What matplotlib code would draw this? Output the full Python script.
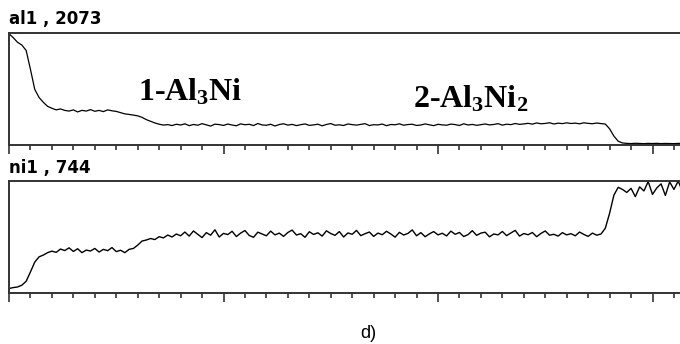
import numpy as np
import matplotlib
matplotlib.use("Agg")
import matplotlib.pyplot as plt
from matplotlib.ticker import MultipleLocator

# Al and Ni line-scan counts, one sample every 0.2 units along the scan
al_counts = [
    2060, 1985, 1900, 1850, 1750, 1400, 1030, 880, 790, 715,
    680, 650, 668, 640, 628, 650, 612, 641, 628, 655,
    624, 640, 618, 650, 633, 622, 600, 576, 566, 553,
    540, 512, 470, 440, 408, 385, 368, 378, 360, 384,
    370,
    392, 358, 380, 366, 395, 372, 350, 386, 378, 362,
    388, 370, 356, 391, 375, 383, 360, 398, 371, 365,
    384, 352, 379, 393, 368, 381, 359, 376, 390, 363,
    372, 385, 355, 380, 397, 366, 374, 361, 389, 377,
    368, 382, 395, 360, 376, 371, 388, 357, 380, 374,
    392, 366, 379, 384, 362, 370, 390, 375, 358, 383,
    372, 366, 387, 378, 361, 393, 370, 381, 364, 376,
    389, 372, 380, 395, 368, 385, 377, 398, 382, 390,
    401, 386, 408, 393, 399, 412, 389, 404, 396, 410,
    398, 405, 392, 411, 400, 394, 407, 396, 388,
    300, 165, 70, 38, 30, 26, 32, 28, 25, 30,
    27, 31, 26, 29, 28, 25, 30, 27, 29, 26,
]

ni_counts = [
    30, 36, 40, 52, 78, 140, 205, 240, 252, 268,
    278, 270, 292, 282, 300, 276, 294, 268, 285, 279,
    296, 272, 290, 281, 302, 275, 284, 268, 290, 296,
    318, 345, 352, 362, 355, 374, 366, 385, 372, 392,
    380,
    405, 378, 412, 390, 368, 401, 384, 420, 372, 396,
    388, 410, 375, 398, 415, 382, 370, 404, 392, 380,
    411, 386, 398, 376, 402, 418, 385, 394, 370, 407,
    389, 400, 378, 413, 395, 383, 408, 372, 399, 390,
    416, 381, 394, 405, 376, 398, 387, 410, 392, 371,
    403, 385, 396, 419, 380, 401, 374, 393, 408, 386,
    397, 379, 411, 390, 402, 375, 388, 414, 383, 398,
    404, 373, 392, 386, 409, 381, 399, 416, 378, 395,
    387, 402, 374, 396, 412, 384, 390, 378, 401, 386,
    394, 380, 405, 389, 376, 398, 384, 392,
    430, 530, 650, 702, 688, 668, 695, 640, 705, 678,
    740, 655, 698, 725, 648, 738, 688, 744, 672, 700,
    712,
]

step = 0.2
al_max = 2073
ni_max = 744
panel_titles = ["al1 , 2073", "ni1 , 744"]

plt.rcParams["mathtext.fontset"] = "custom"
plt.rcParams["mathtext.rm"] = "Liberation Serif:bold"
plt.rcParams["mathtext.it"] = "Liberation Serif:bold"
plt.rcParams["mathtext.bf"] = "Liberation Serif:bold"

W, H = 680, 344
fig = plt.figure(figsize=(W / 100, H / 100), dpi=100)

# panel boxes in pixels: left, top, right, bottom
boxes = [(9, 33, 690, 145), (9, 181, 690, 293)]
px_per_unit = 21.45


def make_axes(box):
    l, t, r, b = box
    ax = fig.add_axes([l / W, 1 - b / H, (r - l) / W, (b - t) / H])
    ax.set_xlim(0, (r - l) / px_per_unit)
    for s in ax.spines.values():
        s.set_color("#333333")
        s.set_linewidth(1.4)
    ax.spines["right"].set_visible(False)
    ax.xaxis.set_major_locator(MultipleLocator(10))
    ax.xaxis.set_minor_locator(MultipleLocator(1))
    ax.tick_params(axis="x", which="major", direction="out", length=6.5, width=1.1,
                   color="#222222", labelbottom=False)
    ax.tick_params(axis="x", which="minor", direction="out", length=3.5, width=1.1,
                   color="#222222")
    ax.set_yticks([])
    return ax


ax1 = make_axes(boxes[0])
x_al = np.arange(len(al_counts)) * step
ax1.plot(x_al, al_counts, color="black", lw=0.9)
ax1.set_ylim(0, al_max)

ax2 = make_axes(boxes[1])
x_ni = np.arange(len(ni_counts)) * step
ax2.plot(x_ni, ni_counts, color="black", lw=1.0)
ax2.set_ylim(0, ni_max)

fig.text(9 / W, 1 - 24 / H, panel_titles[0], fontsize=12, fontweight="bold",
         family="DejaVu Sans", va="baseline", ha="left")
fig.text(9 / W, 1 - 173 / H, panel_titles[1], fontsize=12, fontweight="bold",
         family="DejaVu Sans", va="baseline", ha="left")

fig.text(138 / W, 1 - 100 / H, "1-Al$_3$Ni", fontsize=23, fontweight="bold",
         family="Liberation Serif", va="baseline", ha="left")
fig.text(413 / W, 1 - 107 / H, "2-Al$_3$Ni$_2$", fontsize=23, fontweight="bold",
         family="Liberation Serif", va="baseline", ha="left")

fig.text(368 / W, 1 - 338 / H, "d)", fontsize=13, family="Liberation Sans",
         va="baseline", ha="center")

fig.savefig("out.png", dpi=100)
